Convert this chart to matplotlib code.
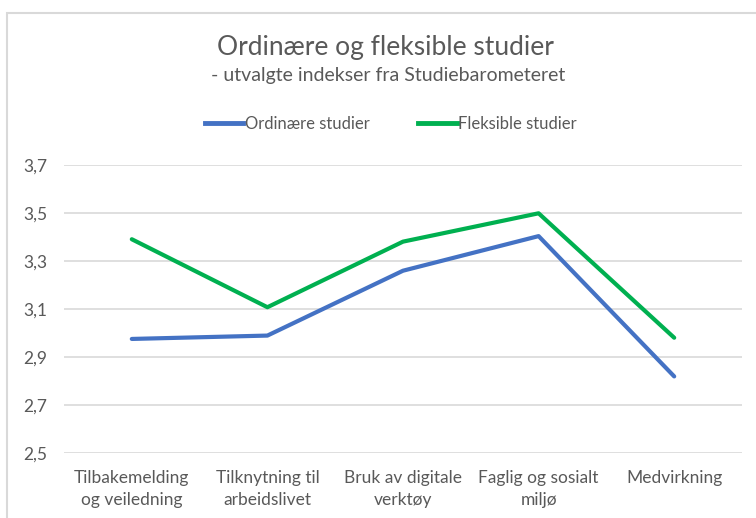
import matplotlib.pyplot as plt
from matplotlib.patches import Rectangle
from matplotlib.lines import Line2D
import numpy as np

plt.rcParams['font.family'] = ['Lato', 'DejaVu Sans']

# data
categories = ['Tilbakemelding\nog veiledning', 'Tilknytning til\narbeidslivet',
              'Bruk av digitale\nverktøy', 'Faglig og sosialt\nmiljø', 'Medvirkning']
ordinaere = [2.976, 2.99, 3.26, 3.404, 2.82]
fleksible = [3.391, 3.108, 3.381, 3.499, 2.981]
yticks = [2.5, 2.7, 2.9, 3.1, 3.3, 3.5, 3.7]
series_names = ['Ordinære studier', 'Fleksible studier']

BLUE = '#4472C4'
GREEN = '#00B050'
TEXT = '#595959'
GRID = '#D9D9D9'

fig = plt.figure(figsize=(7.56, 5.18), dpi=100)
ax = fig.add_axes([64 / 756, 1 - 453.3 / 518, 678 / 756, (453.3 - 165) / 518])

# chart frame
fig.patches.append(Rectangle((7 / 756, -0.1), 1.2, 1 - 13 / 518 + 0.1,
                             transform=fig.transFigure, fill=False,
                             edgecolor='#D9D9D9', linewidth=1.5))

x = np.arange(len(categories))
ax.plot(x, ordinaere, color=BLUE, linewidth=3, solid_capstyle='round', zorder=3)
ax.plot(x, fleksible, color=GREEN, linewidth=3, solid_capstyle='round', zorder=3)

ax.set_xlim(-0.5, len(categories) - 0.5)
ax.set_ylim(2.5, 3.7)
ax.set_yticks(yticks)
ax.set_yticklabels([f'{v:.1f}'.replace('.', ',') for v in yticks])
ax.set_xticks(x)
ax.set_xticklabels(categories, linespacing=1.45)
ax.grid(axis='y', color=GRID, linewidth=1.2)
ax.set_axisbelow(True)
for s in ax.spines.values():
    s.set_visible(False)
ax.tick_params(axis='both', length=0, colors=TEXT, labelsize=12.5)
ax.tick_params(axis='y', pad=12)
ax.tick_params(axis='x', pad=12)

fig.text(385 / 756, 1 - 48 / 518, 'Ordinære og fleksible studier',
         ha='center', va='center', fontsize=19, color=TEXT)
fig.text(388 / 756, 1 - 76 / 518, '- utvalgte indekser fra Studiebarometeret',
         ha='center', va='center', fontsize=14, color=TEXT)

handles = [Line2D([], [], color=BLUE, linewidth=3.5),
           Line2D([], [], color=GREEN, linewidth=3.5)]
fig.legend(handles, series_names, loc='center', bbox_to_anchor=(391 / 756, 1 - 124 / 518),
           ncol=2, frameon=False, fontsize=12, labelcolor=TEXT,
           handlelength=2.3, handletextpad=0.1, columnspacing=2.9)

fig.savefig('out.png', dpi=100)
